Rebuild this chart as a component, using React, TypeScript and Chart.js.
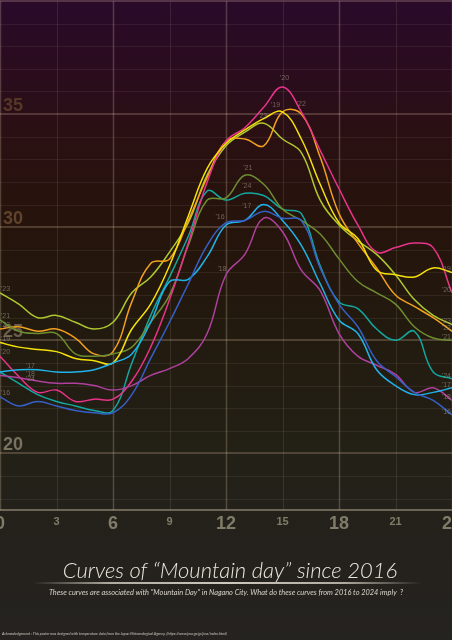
import React, { useEffect, useRef } from "react";
import { Chart, registerables } from "chart.js";

Chart.register(...registerables);

// ---- data (hourly temperature, Nagano City, Aug 11) ----
const HOURS = ["0", "1", "2", "3", "4", "5", "6", "7", "8", "9", "10", "11", "12", "13", "14", "15", "16", "17", "18", "19", "20", "21", "22", "23", "24"];
const YEAR_LABELS = ["'16", "'17", "'18", "'19", "'20", "'21", "'22", "'23", "'24"];

const T2016 = [22.5, 22.1, 22.3, 22.1, 21.9, 21.8, 21.8, 22.6, 24.2, 25.8, 27.5, 29.2, 30.2, 30.3, 30.7, 30.4, 30.3, 28.2, 26.6, 25.6, 24.1, 23.4, 22.7, 22.35, 21.7];
const T2017 = [23.6, 23.7, 23.7, 23.6, 23.6, 23.7, 24.0, 24.4, 25.8, 27.6, 27.7, 28.7, 30.1, 30.3, 31.0, 30.3, 29.2, 27.5, 25.9, 25.3, 23.7, 23.0, 22.6, 22.7, 22.9];
const T2018 = [23.45, 23.35, 23.2, 23.1, 23.1, 23.0, 22.8, 23.0, 23.45, 23.75, 24.2, 25.3, 27.9, 28.8, 30.4, 29.8, 28.1, 27.2, 25.3, 24.3, 23.9, 23.5, 22.7, 22.9, 22.35];
const T2019 = [24.9, 24.7, 24.6, 24.5, 24.2, 24.1, 24.0, 25.5, 26.6, 28.3, 30.5, 32.6, 33.7, 34.3, 34.8, 35.1, 33.9, 31.9, 30.2, 29.5, 28.1, 27.9, 27.8, 28.2, 28.0];
const T2020 = [24.3, 23.4, 22.7, 22.8, 22.3, 22.4, 22.4, 23.2, 24.7, 26.8, 29.3, 32.0, 33.8, 34.4, 35.3, 36.2, 35.1, 33.4, 31.7, 30.1, 28.9, 29.1, 29.3, 29.1, 27.1];
const T2021 = [25.9, 25.4, 25.3, 25.3, 24.4, 24.3, 24.4, 24.7, 25.8, 27.0, 29.2, 31.2, 31.3, 32.3, 31.9, 30.8, 30.3, 29.7, 28.6, 27.6, 27.1, 26.6, 25.6, 25.1, 25.0];
const T2022 = [25.5, 25.6, 25.4, 25.5, 25.1, 24.4, 24.5, 26.7, 28.4, 28.6, 30.3, 32.2, 33.8, 33.9, 33.6, 35.1, 35.0, 33.1, 30.6, 29.3, 28.2, 27.0, 26.5, 26.0, 25.4];
const T2023 = [27.1, 26.6, 26.0, 26.1, 25.8, 25.5, 25.8, 27.1, 27.8, 28.9, 30.2, 32.3, 33.6, 34.2, 34.6, 33.9, 33.3, 31.2, 30.1, 29.4, 28.8, 27.9, 26.8, 26.1, 25.7];
const T2024 = [23.6, 23.1, 22.6, 22.3, 22.1, 21.9, 21.9, 24.0, 26.1, 27.8, 29.6, 31.6, 31.2, 31.5, 31.4, 30.8, 30.6, 28.3, 26.7, 26.4, 25.5, 25.0, 25.4, 23.6, 23.3];

const SERIES = [T2016, T2017, T2018, T2019, T2020, T2021, T2022, T2023, T2024];

const Y_TICK_LABELS = [20, 25, 30, 35];
const X_TICK_LABELS = [0, 3, 6, 9, 12, 15, 18, 21, 24];

// ---- styles ----
const COLORS = ["#3560c6", "#20b3ea", "#b0409e", "#f5e10a", "#e8338a", "#6e8c30", "#f2a01e", "#b0c830", "#12a8a0"];
// start label: [index, dx]; peak label: [index, dx, dy]
const START_LBL: [number, number][] = [[0, 1], [1, 7], [1, 7], [0, 1], [0, 1], [0, 1], [0, 1], [0, 1], [1, 7]];
const PEAK_LBL: [number, number, number][] = [
  [12, -6, -4], [13, 2, -12], [12, -4, -4], [15, -7, -5], [15, 2, -7],
  [13, 3, -5], [16, 0, -8], [14, -1, -5], [13, 2, -5],
];

const posterPlugin = {
  id: "poster",
  beforeDatasetsDraw(chart: any) {
    const { ctx, chartArea: a, scales } = chart;
    const x = scales.x, y = scales.y;
    ctx.save();
    for (let v = 18; v <= 40; v++) {
      const py = y.getPixelForValue(v);
      const major = v % 5 === 0;
      ctx.beginPath();
      ctx.strokeStyle = major ? "rgba(235,205,175,0.22)" : "rgba(240,215,195,0.08)";
      ctx.lineWidth = major ? 2 : 1;
      ctx.moveTo(a.left, Math.round(py) + (major ? 0 : 0.5));
      ctx.lineTo(a.right, Math.round(py) + (major ? 0 : 0.5));
      ctx.stroke();
    }
    X_TICK_LABELS.forEach((h) => {
      const px = x.getPixelForValue(h);
      const major = h % 6 === 0;
      ctx.beginPath();
      ctx.strokeStyle = major ? "rgba(235,215,185,0.24)" : "rgba(235,215,185,0.11)";
      ctx.lineWidth = major ? 1.5 : 1;
      ctx.moveTo(Math.round(px) + 0.5, a.top);
      ctx.lineTo(Math.round(px) + 0.5, a.bottom);
      ctx.stroke();
    });
    ctx.beginPath();
    ctx.strokeStyle = "rgba(225,215,185,0.38)";
    ctx.lineWidth = 2;
    ctx.moveTo(a.left, a.bottom);
    ctx.lineTo(a.right, a.bottom);
    ctx.stroke();

    const g = ctx.createLinearGradient(0, 0, 0, a.bottom);
    g.addColorStop(0, "rgb(78,44,34)");
    g.addColorStop(0.45, "rgb(96,68,44)");
    g.addColorStop(0.68, "rgb(108,98,80)");
    g.addColorStop(0.9, "rgb(122,117,98)");
    ctx.fillStyle = g;
    ctx.font = "bold 18px 'Liberation Sans', Arial, sans-serif";
    ctx.textAlign = "left";
    ctx.textBaseline = "alphabetic";
    Y_TICK_LABELS.forEach((v) => {
      ctx.fillText(String(v), 3, y.getPixelForValue(v) - 3);
    });
    ctx.restore();
  },
  afterDatasetsDraw(chart: any) {
    const { ctx, chartArea: a, scales } = chart;
    const x = scales.x, y = scales.y;
    ctx.save();
    ctx.font = "7px 'Liberation Sans', Arial, sans-serif";
    ctx.fillStyle = "rgba(175,165,148,0.55)";
    ctx.textBaseline = "alphabetic";
    SERIES.forEach((s, i) => {
      const lbl = YEAR_LABELS[i];
      const [si, sdx] = START_LBL[i];
      ctx.textAlign = "left";
      ctx.fillText(lbl, x.getPixelForValue(si) + sdx, y.getPixelForValue(s[si]) - 2);
      const [pi, pdx, pdy] = PEAK_LBL[i];
      ctx.textAlign = "center";
      ctx.fillText(lbl, x.getPixelForValue(pi) + pdx, y.getPixelForValue(s[pi]) + pdy);
      const last = s.length - 1;
      ctx.textAlign = "right";
      ctx.fillText(lbl, a.right - 1, y.getPixelForValue(s[last]) - 1);
    });

    ctx.fillStyle = "rgb(128,124,104)";
    ctx.textAlign = "center";
    X_TICK_LABELS.forEach((h) => {
      const major = h % 6 === 0;
      ctx.font = major ? "bold 18px 'Liberation Sans', Arial, sans-serif" : "bold 11px 'Liberation Sans', Arial, sans-serif";
      ctx.fillText(String(h), x.getPixelForValue(h), major ? 529 : 525);
    });
    ctx.restore();
  },
};

export default function App() {
  const ref = useRef<HTMLCanvasElement>(null);

  useEffect(() => {
    document.body.style.margin = "0";
    const chart = new Chart(ref.current as HTMLCanvasElement, {
      type: "line",
      data: {
        labels: HOURS,
        datasets: SERIES.map((s, i) => ({
          label: YEAR_LABELS[i],
          data: s,
          borderColor: COLORS[i],
          borderWidth: 1.5,
          pointRadius: 0,
          tension: 0.4,
          fill: false,
        })),
      },
      options: {
        animation: false,
        responsive: false,
        devicePixelRatio: 1,
        layout: { padding: { top: 1, bottom: 130, left: 0, right: 0 } },
        plugins: { legend: { display: false }, tooltip: { enabled: false } },
        scales: {
          x: { type: "category", display: false, offset: false },
          y: { type: "linear", display: false, min: 17.5, max: 40 },
        },
      },
      plugins: [posterPlugin],
    });
    return () => chart.destroy();
  }, []);

  return (
    <div
      style={{
        position: "fixed",
        left: 0,
        top: 0,
        width: 452,
        height: 640,
        overflow: "hidden",
        background:
          "linear-gradient(to bottom, #290a2a 0px, #2a0c20 60px, #2a1012 140px, #25140b 230px, #221a0f 330px, #232016 450px, #24211b 512px, #252320 640px)",
      }}
    >
      <canvas ref={ref} width={452} height={640} style={{ position: "absolute", left: 0, top: 0 }} />
      <div
        style={{
          position: "absolute",
          left: 4,
          top: 556,
          width: 452,
          height: 28,
          lineHeight: "28px",
          textAlign: "center",
          fontFamily: "Lato, 'Open Sans', sans-serif",
          fontStyle: "italic",
          fontWeight: 300,
          fontSize: 22,
          color: "#ebe7df",
          whiteSpace: "nowrap",
        }}
      >
        Curves of “Mountain day” since 2016
      </div>
      <div
        style={{
          position: "absolute",
          left: 32,
          top: 582,
          width: 390,
          height: 2,
          background: "linear-gradient(to right, rgba(200,195,185,0), rgba(200,195,185,0.85) 20%, rgba(215,210,200,0.95) 50%, rgba(200,195,185,0.85) 80%, rgba(200,195,185,0))",
        }}
      />
      <div
        style={{
          position: "absolute",
          left: 0,
          top: 588,
          width: 452,
          height: 10,
          lineHeight: "10px",
          textAlign: "center",
          fontFamily: "Lato, 'Open Sans', sans-serif",
          fontStyle: "italic",
          fontSize: 7.4,
          color: "#d8d4cc",
          whiteSpace: "nowrap",
        }}
      >
        These curves are associated with "Mountain Day" in Nagano City. What do these curves from 2016 to 2024 imply&nbsp;&nbsp;?
      </div>
      <div
        style={{
          position: "absolute",
          left: 2,
          top: 631,
          height: 6,
          lineHeight: "6px",
          fontFamily: "Lato, 'Open Sans', sans-serif",
          fontStyle: "italic",
          fontSize: 3.7,
          color: "#cfcac2",
          whiteSpace: "nowrap",
        }}
      >
        Acknowledgement : This poster was designed with temperature data from the Japan Meteorological Agency. (https://www.jma.go.jp/jma/index.html)
      </div>
    </div>
  );
}
